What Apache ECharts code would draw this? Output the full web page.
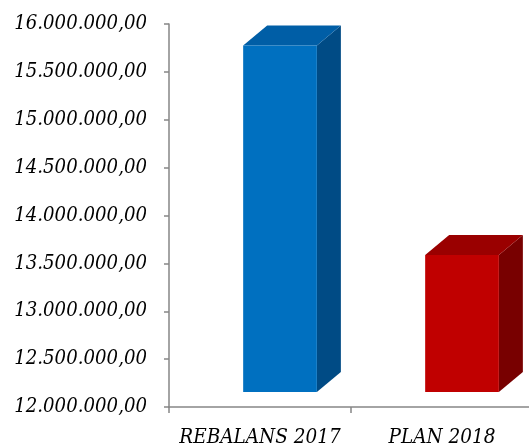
<!DOCTYPE html>
<html><head><meta charset="utf-8">
<script src="https://cdn.jsdelivr.net/npm/echarts@6/dist/echarts.min.js"></script>
<style>html,body{margin:0;padding:0;background:#fff}#c{width:529px;height:447px}</style>
</head><body><div id="c"></div>
<script>
const categories = ['REBALANS 2017', 'PLAN 2018'];
const values = [15620000, 13430000];
const yTicks = {min: 12000000, max: 16000000, interval: 500000};
const faceColors = [
  {front: '#0070C0', top: '#005EA6', side: '#004B85'},
  {front: '#C00000', top: '#9A0000', side: '#780000'}
];
function fmt(v){
  const s = Math.round(v).toString().replace(/\B(?=(\d{3})+(?!\d))/g, '.');
  return s + ',00';
}
const chart = echarts.init(document.getElementById('c'));
const labelFont = {fontFamily: 'DejaVu Serif Condensed, DejaVu Serif', fontStyle: 'italic', color: '#000'};
chart.setOption({
  animation: false,
  grid: {left: 169, width: 364, top: 24, height: 383, outerBoundsMode: 'none', containLabel: false},
  xAxis: {
    type: 'category', data: categories,
    axisLine: {lineStyle: {color: '#868686', width: 1.5}},
    axisTick: {show: true, length: 6, lineStyle: {color: '#868686', width: 1.5}},
    axisLabel: Object.assign({fontSize: 20.5, margin: 21, interval: 0, hideOverlap: false}, labelFont)
  },
  yAxis: {
    type: 'value', min: yTicks.min, max: yTicks.max, interval: yTicks.interval,
    axisLine: {show: true, lineStyle: {color: '#868686', width: 1.5}},
    axisTick: {show: true, length: 5, lineStyle: {color: '#868686', width: 1.5}},
    splitLine: {show: false},
    axisLabel: Object.assign({fontSize: 20.2, margin: 22, formatter: fmt}, labelFont)
  },
  series: [{
    type: 'custom',
    data: values.map((v, i) => [i, v]),
    renderItem: function (params, api) {
      const i = api.value(0);
      const p = api.coord([i, api.value(1)]);
      const b = api.coord([i, yTicks.min]);
      const band = api.size([1, 0])[0];
      const w = band * 0.405;
      const off = band * 0.11;
      const dx = 24, dy = 20, lift = 15;
      const L = p[0] + off - w / 2, R = L + w;
      const T = p[1] - lift, B = b[1] - lift;
      const c = faceColors[params.dataIndex];
      return {
        type: 'group',
        children: [
          {type: 'polygon', shape: {points: [[R, T], [R + dx, T - dy], [R + dx, B - dy], [R, B]]}, style: {fill: c.side}},
          {type: 'polygon', shape: {points: [[L, T], [R, T], [R + dx, T - dy], [L + dx, T - dy]]}, style: {fill: c.top}},
          {type: 'rect', shape: {x: L, y: T, width: w, height: B - T}, style: {fill: c.front}}
        ]
      };
    }
  }]
});
</script></body></html>
